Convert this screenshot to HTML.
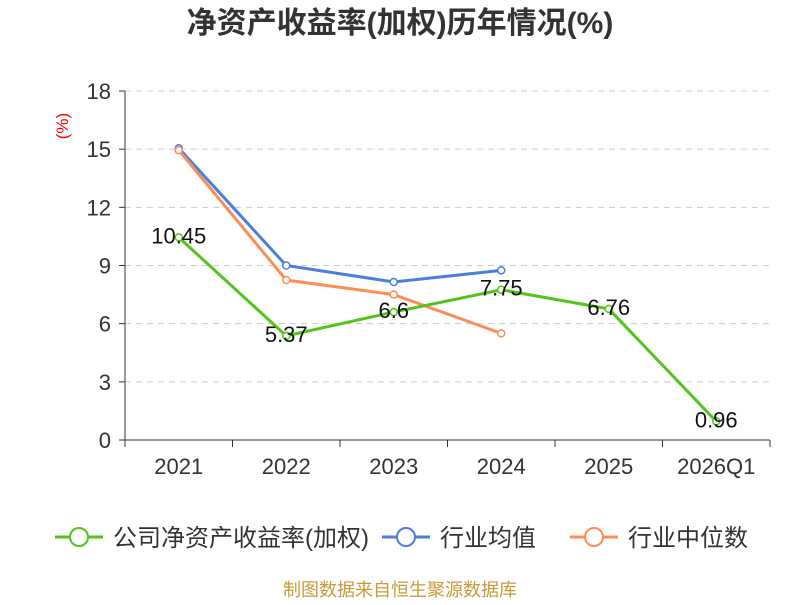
<!DOCTYPE html>
<html><head><meta charset="utf-8"><style>
body{margin:0;background:#fff;font-family:"Liberation Sans","Noto Sans CJK SC",sans-serif;}
</style></head><body>
<svg id="chart" width="800" height="600" xmlns="http://www.w3.org/2000/svg" font-family="Liberation Sans, Noto Sans CJK SC, sans-serif">
<text x="400" y="33" text-anchor="middle" font-size="30" font-weight="bold" fill="#333">净资产收益率(加权)历年情况(%)</text>
<text x="68" y="126" font-size="17" fill="#e00" transform="rotate(-90 68 126)" text-anchor="middle">(%)</text>
<g id="grid"></g><g id="axes"></g><g id="series"></g><g id="labels"></g>
<g>
<g><line x1="55" y1="537" x2="103" y2="537" stroke="#52c41a" stroke-width="3"/><circle cx="79" cy="537" r="9" fill="#fff" stroke="#52c41a" stroke-width="2"/><text x="113" y="546" font-size="24" fill="#333">公司净资产收益率(加权)</text></g>
<g><line x1="382" y1="537" x2="430" y2="537" stroke="#4a7fe0" stroke-width="3"/><circle cx="406" cy="537" r="9" fill="#fff" stroke="#4a7fe0" stroke-width="2"/><text x="440" y="546" font-size="24" fill="#333">行业均值</text></g>
<g><line x1="570" y1="537" x2="618" y2="537" stroke="#ff8c55" stroke-width="3"/><circle cx="594" cy="537" r="9" fill="#fff" stroke="#ff8c55" stroke-width="2"/><text x="628" y="546" font-size="24" fill="#333">行业中位数</text></g>
</g>
<text x="400" y="596" text-anchor="middle" font-size="18" fill="#c89a3a">制图数据来自恒生聚源数据库</text>
</svg>
<script>
const categories=["2021","2022","2023","2024","2025","2026Q1"];
const companyValues=[10.45,5.37,6.6,7.75,6.76,0.96];
const avgValues=[15.05,9.0,8.15,8.75];
const medianValues=[14.95,8.25,7.5,5.5];
const yTicks=[0,3,6,9,12,15,18];
const NS="http://www.w3.org/2000/svg";
const x0=125,x1=770,y0=440,y1=91,yMax=18;
const bw=(x1-x0)/categories.length;
const xs=i=>x0+bw*(i+0.5);
const ys=v=>y0-(v/yMax)*(y0-y1);
function mk(tag,attrs,parent,text){const e=document.createElementNS(NS,tag);for(const k in attrs)e.setAttribute(k,attrs[k]);if(text!==undefined)e.textContent=text;document.getElementById(parent).appendChild(e);return e;}
yTicks.forEach(t=>{
 if(t>0){const g=mk('line',{x1:x0,x2:x1,y1:ys(t),y2:ys(t),stroke:'#ccc','stroke-dasharray':'6,5'},'grid');
 
 }
 const tk=mk('line',{x1:x0-6,x2:x0,y1:ys(t),y2:ys(t),stroke:'#333'},'axes');
 
 
 const l=mk('text',{x:x0-14,y:ys(t)+8,'text-anchor':'end','font-size':22,fill:'#333'},'axes',t);
 
 
});
const ya=mk('line',{x1:x0,x2:x0,y1:y1,y2:y0,stroke:'#333'},'axes');


const xa=mk('line',{x1:x0,x2:x1,y1:y0,y2:y0,stroke:'#333'},'axes');


for(let i=0;i<=categories.length;i++){const tk=mk('line',{x1:x0+bw*i,x2:x0+bw*i,y1:y0,y2:y0+7,stroke:'#333'},'axes');
 
 }
categories.forEach((c,i)=>{const l=mk('text',{x:xs(i),y:y0+34,'text-anchor':'middle','font-size':22,fill:'#333'},'axes',c);
 
 });
function series(vals,color,name){
 const p=mk('polyline',{points:vals.map((v,i)=>xs(i)+','+ys(v)).join(' '),fill:'none',stroke:color,'stroke-width':3},'series');
 
 
 vals.forEach((v,i)=>{const c=mk('circle',{cx:xs(i),cy:ys(v),r:3.5,fill:'#fff',stroke:color,'stroke-width':1.5},'series');
 
 });
}
series(avgValues,'#4a7fe0','industry-average');
series(medianValues,'#ff8c55','industry-median');
series(companyValues,'#52c41a','company');
companyValues.forEach((v,i)=>{const t=mk('text',{x:xs(i),y:ys(v)+6,'text-anchor':'middle','font-size':22,fill:'#111'},'labels',v);
 
 });
</script>
</body></html>
